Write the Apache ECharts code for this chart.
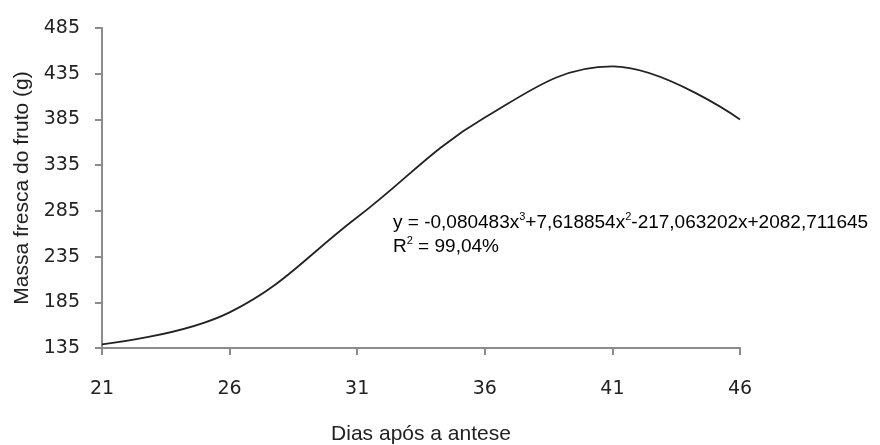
<!DOCTYPE html>
<html>
<head>
<meta charset="utf-8">
<script src="https://cdn.jsdelivr.net/npm/echarts@6/dist/echarts.min.js"></script>
<style>
  html, body { margin: 0; padding: 0; background: #fff; }
  #chart { width: 880px; height: 445px; }
</style>
</head>
<body>
<div id="chart"></div>
<script>
// dias após a antese / massa fresca (g)
const days = [21, 26, 31, 36, 41, 46];
const massa = [139, 174, 278, 387, 443, 385];

const chart = echarts.init(document.getElementById('chart'), null, { renderer: 'canvas' });

const axisGray = '#8c8c8c';
const tickFont = 'DejaVu Sans, Verdana, sans-serif';
const textFont = 'Liberation Sans, Arial, sans-serif';

const option = {
  backgroundColor: '#ffffff',
  animation: false,
  grid: { left: 102, right: 140, top: 28, bottom: 97, outerBoundsMode: 'none' },
  xAxis: {
    type: 'value',
    min: 21,
    max: 46,
    interval: 5,
    name: 'Dias após a antese',
    nameLocation: 'middle',
    nameGap: 76,
    nameTextStyle: { fontFamily: textFont, fontSize: 21, color: '#222' },
    axisLine: { lineStyle: { color: axisGray, width: 2 } },
    axisTick: { show: true, length: 7, lineStyle: { color: axisGray, width: 2 } },
    axisLabel: { fontFamily: tickFont, fontSize: 19, color: '#222', margin: 32 },
    splitLine: { show: false }
  },
  yAxis: {
    type: 'value',
    min: 135,
    max: 485,
    interval: 50,
    name: 'Massa fresca do fruto (g)',
    nameLocation: 'middle',
    nameGap: 69,
    nameTextStyle: { fontFamily: textFont, fontSize: 21, color: '#222' },
    axisLine: { show: true, lineStyle: { color: axisGray, width: 2 } },
    axisTick: { show: true, length: 7, lineStyle: { color: axisGray, width: 2 } },
    axisLabel: { fontFamily: tickFont, fontSize: 19, color: '#222', margin: 22 },
    splitLine: { show: false }
  },
  series: [{
    type: 'line',
    data: days.map((d, i) => [d, massa[i]]),
    smooth: 0.4,
    showSymbol: false,
    lineStyle: { color: '#222', width: 1.8 }
  }],
  graphic: [{
    type: 'text',
    left: 393,
    top: 211,
    style: {
      text: '{t|y = -0,080483x}{s|3}{t|+7,618854x}{s|2}{t|-217,063202x+2082,711645}\n{t|R}{s|2}{t| = 99,04%}',
      rich: {
        t: { fontFamily: textFont, fontSize: 19, color: '#111', lineHeight: 24 },
        s: { fontFamily: textFont, fontSize: 11, color: '#111', verticalAlign: 'top', lineHeight: 24, padding: [0, 0, 8, 0] }
      }
    }
  }]
};

chart.setOption(option);
</script>
</body>
</html>
